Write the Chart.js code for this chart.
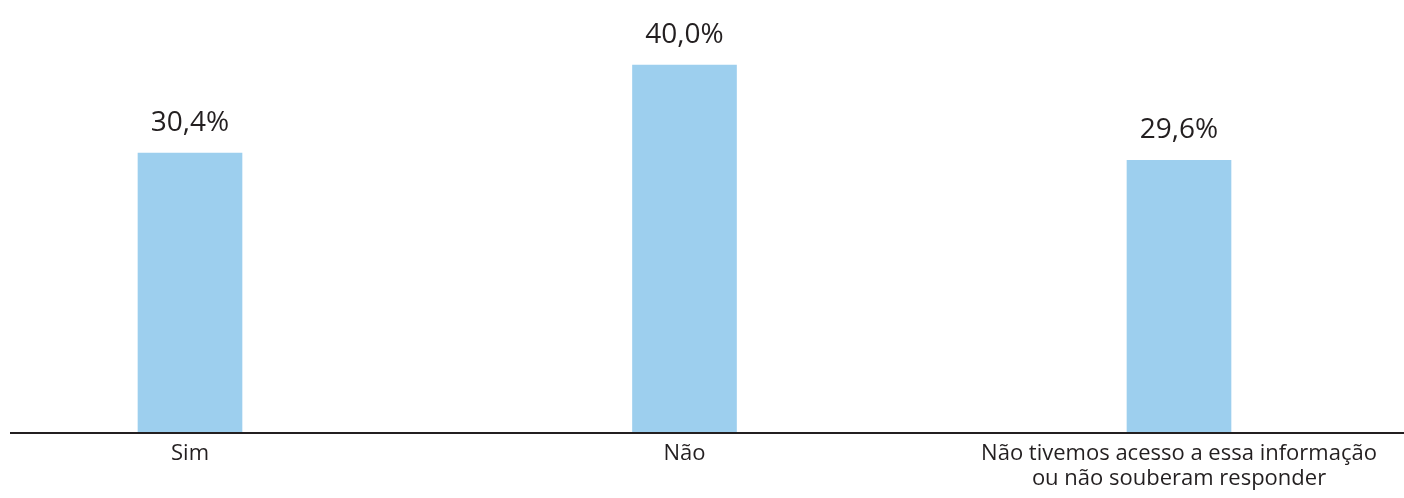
<!DOCTYPE html>
<html>
<head>
<meta charset="utf-8">
<script src="https://cdn.jsdelivr.net/npm/chart.js@4"></script>
<style>
  html, body { margin: 0; padding: 0; background: #fff; }
  #wrap { width: 1404px; height: 498px; }
</style>
</head>
<body>
<div id="wrap"><canvas id="chart"></canvas></div>
<script>
// Data
const categories = ['Sim', 'Não', ['Não tivemos acesso a essa informação', 'ou não souberam responder']];
const values = [30.4, 40.0, 29.6];
const valueLabels = ['30,4%', '40,0%', '29,6%'];

const textColor = '#231f20';
const barColor = '#9dcfee';

// Baseline across the whole width + value labels above bars
const extras = {
    id: 'extras',
    afterDatasetsDraw(chart) {
        const ctx = chart.ctx;
        const y0 = chart.scales.y.getPixelForValue(0);
        ctx.save();
        ctx.strokeStyle = textColor;
        ctx.lineWidth = 2;
        ctx.beginPath();
        ctx.moveTo(10, y0 + 1);
        ctx.lineTo(chart.width, y0 + 1);
        ctx.stroke();

        ctx.fillStyle = textColor;
        ctx.font = '28px "Open Sans"';
        ctx.textAlign = 'center';
        ctx.textBaseline = 'alphabetic';
        chart.getDatasetMeta(0).data.forEach((bar, i) => {
            ctx.fillText(valueLabels[i], bar.x, bar.y - 22);
        });
        ctx.restore();
    }
};

new Chart(document.getElementById('chart'), {
    type: 'bar',
    data: {
        labels: categories,
        datasets: [{
            data: values,
            backgroundColor: barColor,
            barThickness: 104,
            clip: false
        }]
    },
    options: {
        responsive: true,
        maintainAspectRatio: false,
        animation: false,
        layout: { padding: { left: 190, right: 225, top: 65, bottom: 0 } },
        plugins: {
            legend: { display: false },
            tooltip: { enabled: false }
        },
        scales: {
            x: {
                offset: false,
                grid: { display: false, drawTicks: false },
                border: { display: false },
                ticks: {
                    color: textColor,
                    font: { family: 'Open Sans', size: 22, lineHeight: 1.1 },
                    padding: 10,
                    maxRotation: 0,
                    autoSkip: false
                },
                afterFit(scale) { scale.height = 66; }
            },
            y: {
                display: false,
                min: 0,
                max: 40
            }
        }
    },
    plugins: [extras]
});
</script>
</body>
</html>
